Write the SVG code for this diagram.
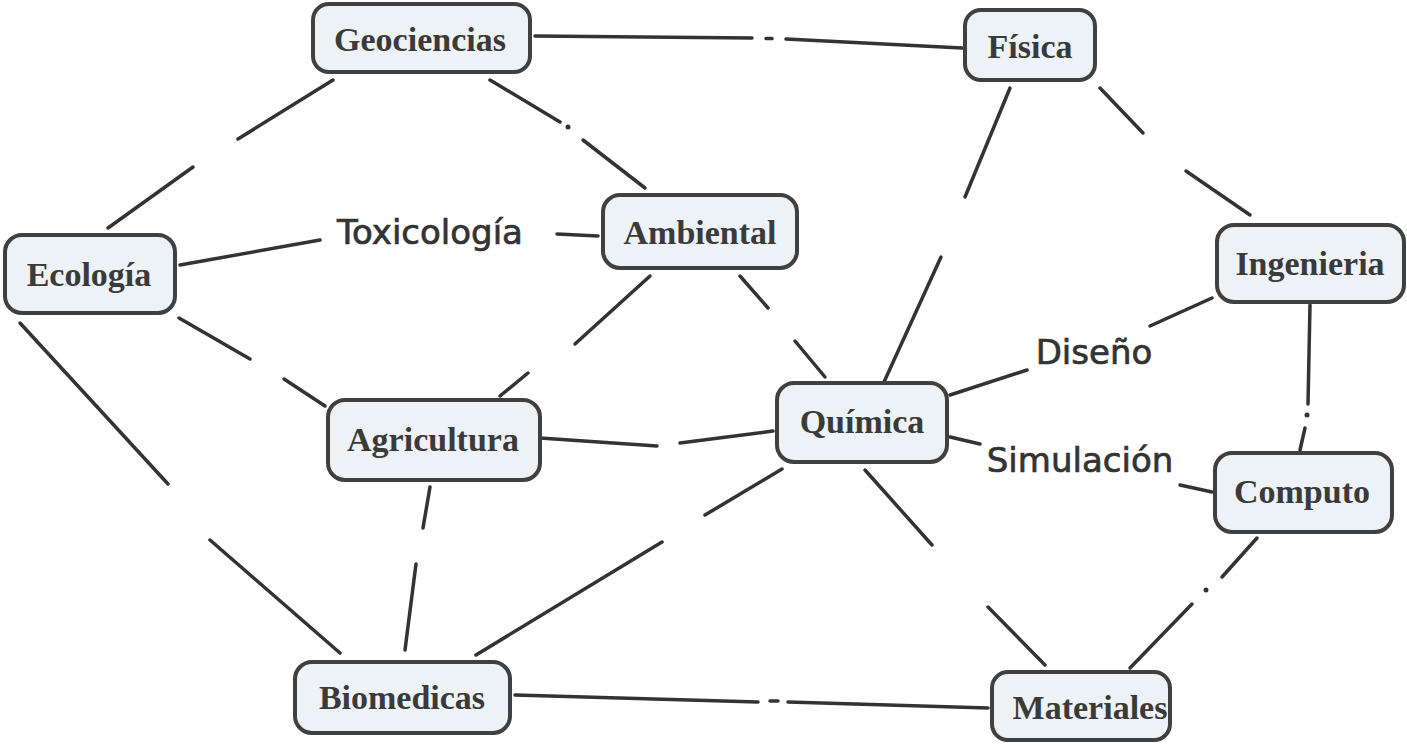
<svg xmlns="http://www.w3.org/2000/svg" width="1407" height="746" viewBox="0 0 1407 746">
<style>
.box{fill:#edf2f7;stroke:#404040;stroke-width:4}
.nt{font-family:"Liberation Serif","Times New Roman",serif;font-weight:bold;font-size:34px;fill:#3a3a3a;text-anchor:middle}
.lb{font-family:"DejaVu Sans",Verdana,sans-serif;font-size:34px;fill:#333;stroke:#333;stroke-width:0.7;text-anchor:middle}
.c line{stroke:#333;stroke-width:3.5;stroke-linecap:round}
.c circle{fill:#333}
</style>
<rect width="1407" height="746" fill="#fff"/>
<g id="connectors" class="c">
<line x1="535" y1="36" x2="752" y2="38"/><line x1="766" y1="38.5" x2="772" y2="38.6"/><line x1="786" y1="39" x2="962" y2="48"/>
<line x1="333" y1="80" x2="238" y2="139"/><line x1="193" y1="167" x2="108" y2="228"/>
<line x1="490" y1="80" x2="560" y2="122"/><circle cx="568" cy="127" r="2.5"/><line x1="583" y1="140" x2="645" y2="188"/>
<line x1="180" y1="265" x2="320" y2="240"/>
<line x1="557" y1="234" x2="598" y2="236"/>
<line x1="179" y1="318" x2="250" y2="359"/><line x1="284" y1="379" x2="325" y2="406"/>
<line x1="20" y1="323" x2="168" y2="484"/><line x1="210" y1="540" x2="340" y2="653"/>
<line x1="650" y1="276" x2="575" y2="344"/><line x1="528" y1="373" x2="500" y2="396"/>
<line x1="740" y1="276" x2="768" y2="308"/><line x1="795" y1="341" x2="825" y2="377"/>
<line x1="1010" y1="88" x2="965" y2="197"/><line x1="941" y1="257" x2="884" y2="382"/>
<line x1="1100" y1="88" x2="1143" y2="133"/><line x1="1186" y1="171" x2="1250" y2="215"/>
<line x1="1212" y1="298" x2="1150" y2="326"/>
<line x1="1027" y1="370" x2="950" y2="395"/>
<line x1="1310" y1="305" x2="1308" y2="404"/><circle cx="1307" cy="415" r="2.5"/><line x1="1305" y1="428" x2="1300" y2="450"/>
<line x1="950" y1="437" x2="980" y2="444"/>
<line x1="1180" y1="485" x2="1212" y2="492"/>
<line x1="540" y1="438" x2="657" y2="446"/><line x1="680" y1="443" x2="773" y2="431"/>
<line x1="782" y1="469" x2="705" y2="515"/><line x1="662" y1="542" x2="476" y2="655"/>
<line x1="430" y1="487" x2="423" y2="528"/><line x1="416" y1="564" x2="405" y2="650"/>
<line x1="865" y1="470" x2="932" y2="545"/><line x1="988" y1="607" x2="1045" y2="665"/>
<line x1="1257" y1="538" x2="1222" y2="577"/><circle cx="1206" cy="590" r="2.5"/><line x1="1192" y1="604" x2="1130" y2="668"/>
<line x1="515" y1="695" x2="758" y2="702"/><line x1="770" y1="701" x2="778" y2="701"/><line x1="788" y1="702" x2="988" y2="708"/>
</g>
<g id="lbl-toxicologia"><text class="lb" x="430" y="244">Toxicología</text></g>
<g id="lbl-diseno"><text class="lb" x="1094" y="364">Diseño</text></g>
<g id="lbl-simulacion"><text class="lb" x="1080" y="472">Simulación</text></g>
<g id="n-geociencias"><rect class="box" x="313" y="4" width="217" height="68" rx="16"/><text class="nt" x="420" y="51">Geociencias</text></g>
<g id="n-fisica"><rect class="box" x="965" y="10" width="130" height="70" rx="16"/><text class="nt" x="1030" y="58">Física</text></g>
<g id="n-ecologia"><rect class="box" x="5" y="235" width="170" height="78" rx="17"/><text class="nt" x="89" y="286">Ecología</text></g>
<g id="n-ambiental"><rect class="box" x="603" y="195" width="194" height="73" rx="17"/><text class="nt" x="700" y="244">Ambiental</text></g>
<g id="n-ingenieria"><rect class="box" x="1217" y="225" width="187" height="77" rx="17"/><text class="nt" x="1310" y="275">Ingenieria</text></g>
<g id="n-agricultura"><rect class="box" x="328" y="400" width="212" height="80" rx="17"/><text class="nt" x="433" y="451">Agricultura</text></g>
<g id="n-quimica"><rect class="box" x="777" y="383" width="170" height="79" rx="17"/><text class="nt" x="862" y="433">Química</text></g>
<g id="n-computo"><rect class="box" x="1215" y="453" width="177" height="79" rx="17"/><text class="nt" x="1302" y="503">Computo</text></g>
<g id="n-biomedicas"><rect class="box" x="295" y="662" width="215" height="71" rx="17"/><text class="nt" x="402" y="709">Biomedicas</text></g>
<g id="n-materiales"><rect class="box" x="992" y="672" width="178" height="68" rx="16"/><text class="nt" x="1090" y="719">Materiales</text></g>
</svg>
